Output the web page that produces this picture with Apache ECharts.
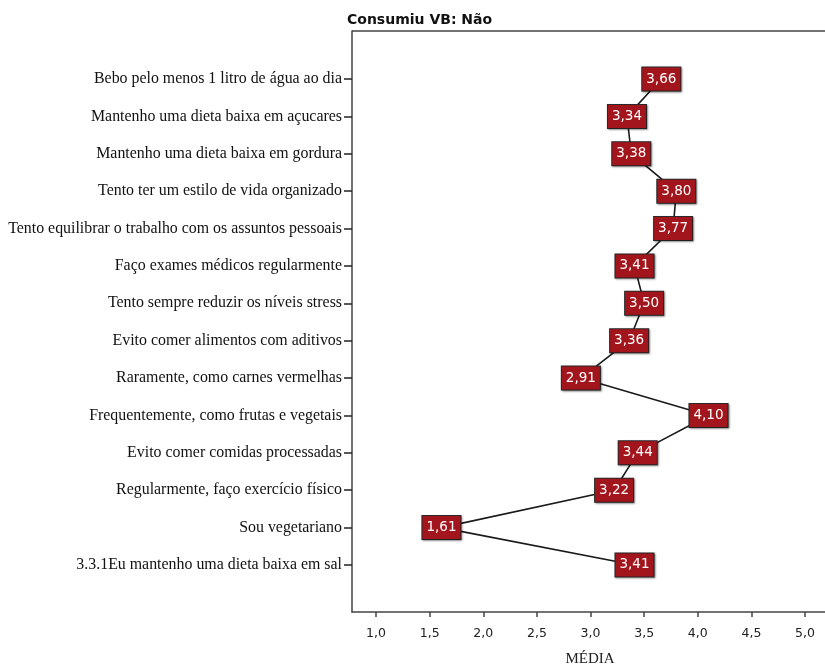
<!DOCTYPE html>
<html>
<head>
<meta charset="utf-8">
<title>Consumiu VB: Não</title>
<script src="https://cdn.jsdelivr.net/npm/echarts@6/dist/echarts.min.js"></script>
<style>
  html, body { margin: 0; padding: 0; background: #ffffff; }
  #chart { width: 825px; height: 668px; }
</style>
</head>
<body>
<div id="chart"></div>
<script>
// Items (top to bottom)
const categories = [
  'Bebo pelo menos 1 litro de água ao dia',
  'Mantenho uma dieta baixa em açucares',
  'Mantenho uma dieta baixa em gordura',
  'Tento ter um estilo de vida organizado',
  'Tento equilibrar o trabalho com os assuntos pessoais',
  'Faço exames médicos regularmente',
  'Tento sempre reduzir os níveis stress',
  'Evito comer alimentos com aditivos',
  'Raramente, como carnes vermelhas',
  'Frequentemente, como frutas e vegetais',
  'Evito comer comidas processadas',
  'Regularmente, faço exercício físico',
  'Sou vegetariano',
  '3.3.1Eu mantenho uma dieta baixa em sal'
];

// Mean score per item
const means = [3.66, 3.34, 3.38, 3.80, 3.77, 3.41, 3.50, 3.36, 2.91, 4.10, 3.44, 3.22, 1.61, 3.41];

// X axis tick values
const xTicks = [1.0, 1.5, 2.0, 2.5, 3.0, 3.5, 4.0, 4.5, 5.0];

const fmt = v => v.toFixed(2).replace('.', ',');
const fmtTick = v => v.toFixed(1).replace('.', ',');

const chart = echarts.init(document.getElementById('chart'), null, { renderer: 'canvas' });

const seriesData = means.map((m, i) => [m, i]);
const catIndex = categories.map((c, i) => i);
const yMin = -48 / 37.38;
const yMax = 13 + 47 / 37.38;

chart.setOption({
  animation: false,
  backgroundColor: '#ffffff',
  title: {
    text: 'Consumiu VB: Não',
    left: 342,
    top: 8,
    textStyle: { fontFamily: 'DejaVu Sans', fontSize: 14, fontWeight: 'bold', color: '#111' }
  },
  grid: { left: 352, top: 31, width: 476, height: 581, containLabel: false, outerBoundsMode: 'none' },
  xAxis: {
    type: 'value',
    min: 0.776,
    max: 0.776 + 476 / 107.25,
    name: 'MÉDIA',
    nameLocation: 'middle',
    nameGap: 40,
    nameTextStyle: { fontFamily: 'Liberation Serif', fontSize: 15, color: '#222' },
    axisLine: { show: true, onZero: false, lineStyle: { color: '#444', width: 1.5 } },
    axisTick: { show: true, customValues: xTicks, length: 5, inside: false, lineStyle: { color: '#444', width: 1.5 } },
    axisLabel: {
      customValues: xTicks,
      formatter: fmtTick,
      margin: 15,
      fontFamily: 'DejaVu Sans',
      fontSize: 12.5,
      color: '#222'
    },
    splitLine: { show: false }
  },
  yAxis: {
    type: 'value',
    inverse: true,
    min: yMin,
    max: yMax,
    axisLine: { show: true, onZero: false, lineStyle: { color: '#444', width: 1.5 } },
    axisTick: { show: true, customValues: catIndex, length: 8, lineStyle: { color: '#222', width: 1.5 } },
    axisLabel: {
      customValues: catIndex,
      formatter: v => categories[Math.round(v)] || '',
      margin: 10,
      fontFamily: 'Liberation Serif',
      fontSize: 15.9,
      color: '#111'
    },
    splitLine: { show: false }
  },
  series: [{
    type: 'line',
    data: seriesData,
    symbol: 'rect',
    symbolSize: 1,
    showSymbol: true,
    itemStyle: { color: 'rgba(0,0,0,0)' },
    lineStyle: { color: '#1a1a1a', width: 1.6 },
    label: {
      show: true,
      position: 'inside',
      formatter: p => fmt(p.value[0]),
      fontFamily: 'DejaVu Sans',
      fontSize: 13.5,
      lineHeight: 15,
      color: '#ffffff',
      backgroundColor: '#a3151c',
      borderColor: '#2a2a2a',
      borderWidth: 1,
      padding: [5, 4, 3, 4],
      shadowColor: 'rgba(0,0,0,0.35)',
      shadowBlur: 2,
      shadowOffsetX: 1,
      shadowOffsetY: 1
    },
    labelLayout: { hideOverlap: false },
    z: 5
  }, {
    // top frame line of the plot area
    type: 'line',
    data: [],
    markLine: {
      silent: true,
      symbol: 'none',
      label: { show: false },
      lineStyle: { color: '#444', width: 1.5, type: 'solid' },
      data: [{ yAxis: yMin }]
    }
  }]
});
</script>
</body>
</html>
